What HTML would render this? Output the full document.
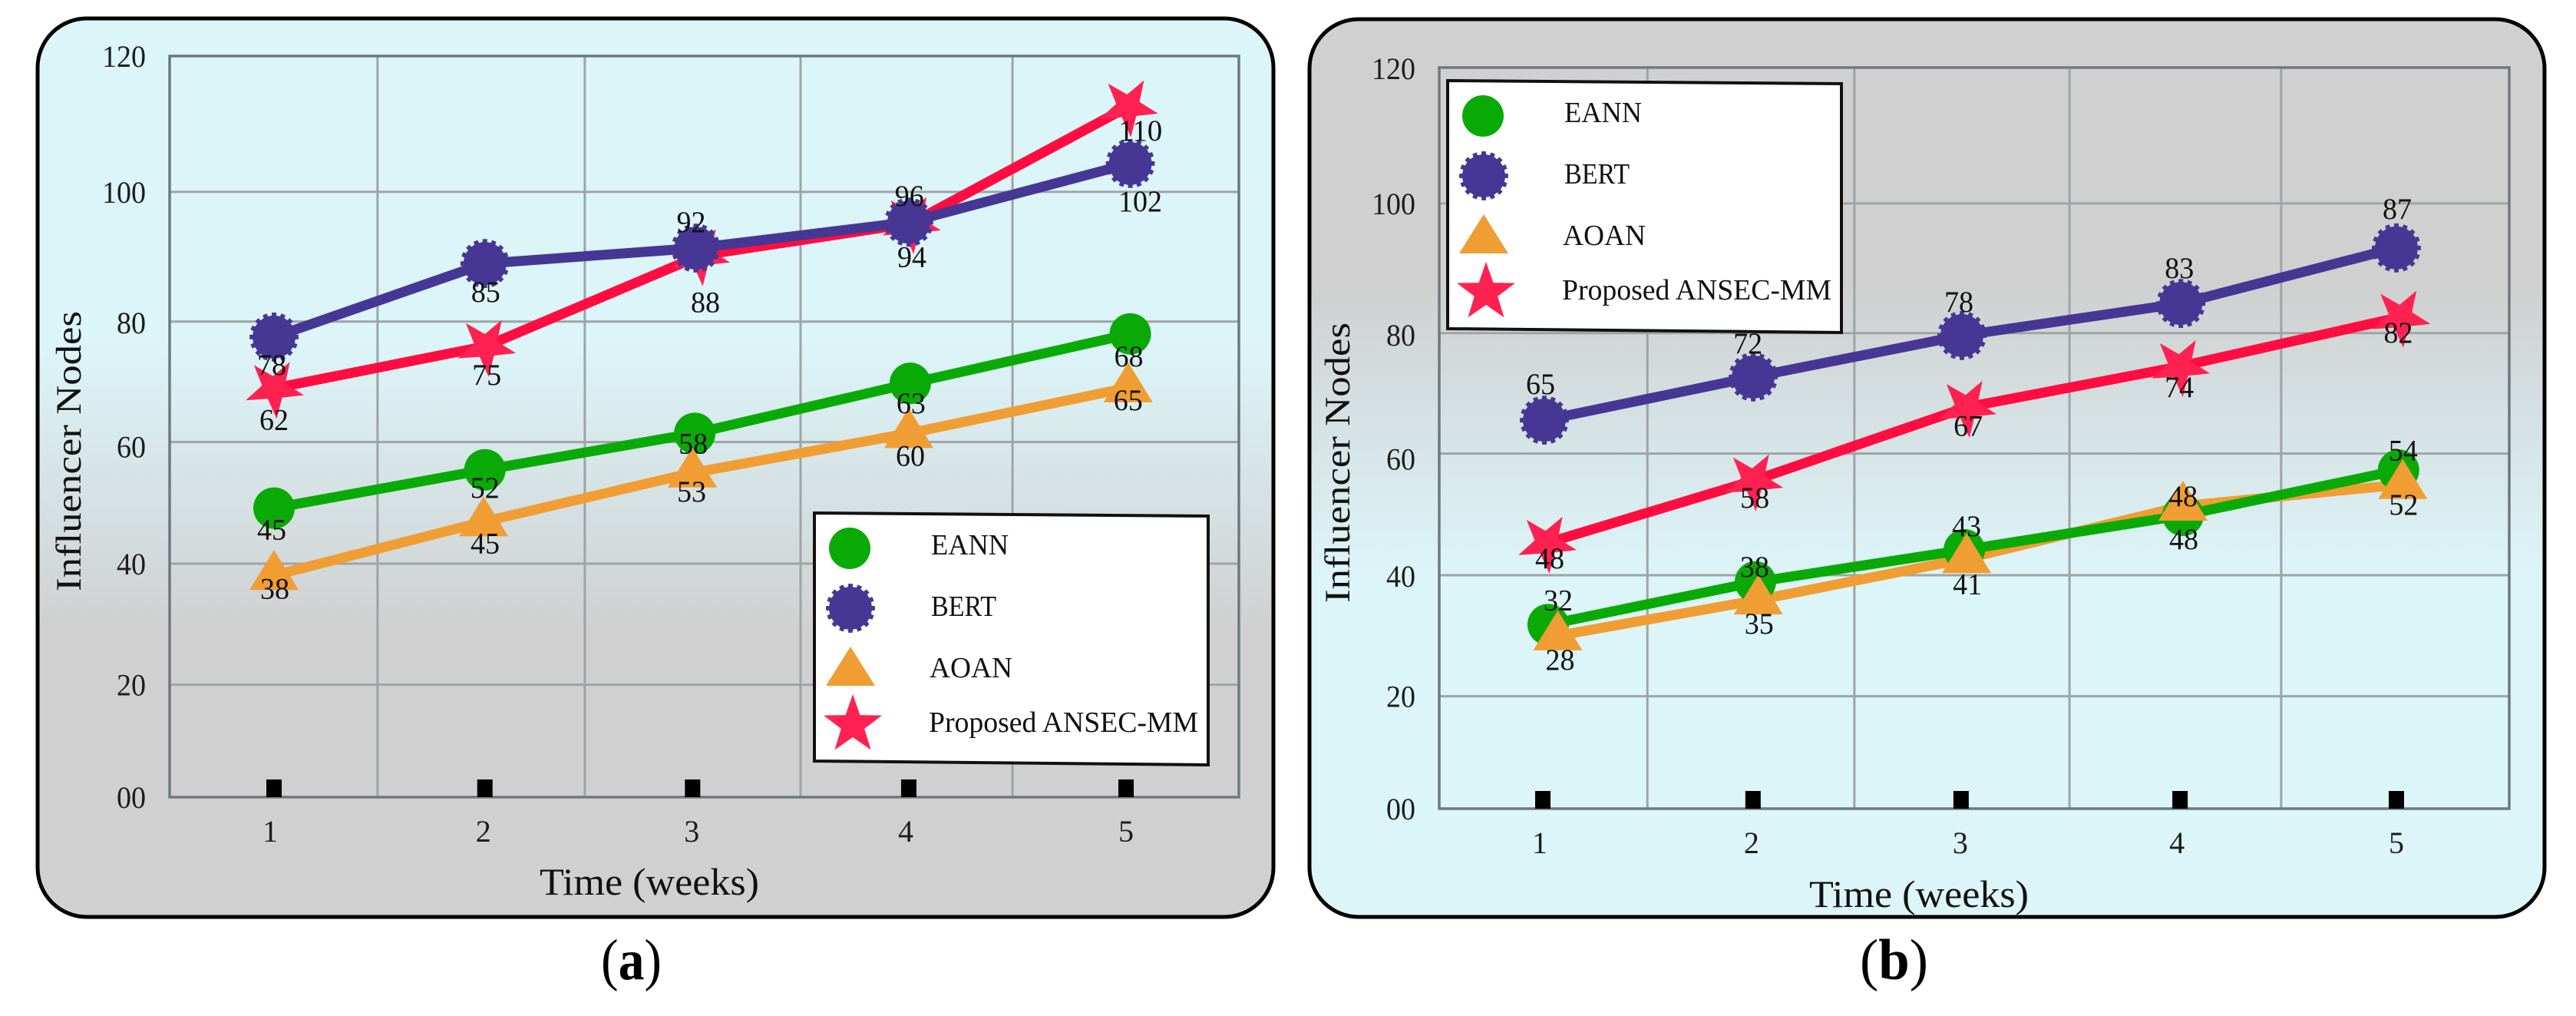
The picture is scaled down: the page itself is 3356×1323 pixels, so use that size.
<!DOCTYPE html>
<html lang="en">
<head>
<meta charset="utf-8">
<title>Influencer Nodes over Time</title>
<style>
html,body{margin:0;padding:0;background:#fff;width:3356px;height:1323px;overflow:hidden}
svg{display:block;font-family:"Liberation Serif",serif}
</style>
</head>
<body>
<svg id="figure" xmlns="http://www.w3.org/2000/svg" width="3356" height="1323" viewBox="0 0 3356 1323">
  <defs>
    <linearGradient id="bgA" x1="0" y1="0" x2="0" y2="1">
      <stop offset="0" stop-color="#dcf5f9"/><stop offset="0.36" stop-color="#dcf5f9"/><stop offset="0.68" stop-color="#d0d0d0"/><stop offset="1" stop-color="#d0d0d0"/>
    </linearGradient>
    <linearGradient id="bgB" x1="0" y1="0" x2="0" y2="1">
      <stop offset="0" stop-color="#d0d0d0"/><stop offset="0.30" stop-color="#d0d0d0"/><stop offset="0.62" stop-color="#dcf5f9"/><stop offset="1" stop-color="#dcf5f9"/>
    </linearGradient>
  </defs>
</svg>
<script>
/* ---------- shared axis data ---------- */
var yTickLabels = ["00","20","40","60","80","100","120"];
var gridLevels = [0,18.2,37.8,57.5,77,98,120];
var xTickLabels = ["1","2","3","4","5"];
var seriesNames = ["EANN","BERT","AOAN","Proposed ANSEC-MM"];

/* ---------- panel (a) data: plotted values, time coordinates, printed labels ---------- */
var aEannValues = [46.8,53.0,58.9,67.0,75.0];
var aBertValues = [74.5,86.4,88.9,93.1,102.6];
var aAoanValues = [35.9,44.6,52.5,58.9,66.3];
var aStarValues = [66.2,73.0,87.7,92.9,111.8];
var aEannTime = [1,1.99,2.975,3.987,5.02];
var aBertTime = [1,1.99,2.98,3.98,5.02];
var aAoanTime = [1,1.984,2.964,3.98,5.01];
var aStarTime = [1,1.995,3.0,3.99,5.01];
var aEannPrinted = [45,52,58,63,68];
var aBertPrinted = [78,85,92,94,102];
var aAoanPrinted = [38,45,53,60,65];
var aStarPrinted = [62,75,88,96,110];
var aTimeTicks = [1,1.99,2.965,3.98,5];
var aVerticalGrid = [1.486,2.459,3.472,4.467];

/* ---------- panel (b) data ---------- */
var bEannValues = [29.8,36.7,41.9,47.5,54.8];
var bBertValues = [62.9,69.9,76.6,81.8,90.8];
var bAoanValues = [28.0,33.8,40.5,49.0,52.5];
var bStarValues = [43.0,53.1,65.0,71.6,79.6];
var bEannTime = [1.025,1.996,2.975,4.0,5.01];
var bBertTime = [1.007,1.986,2.964,3.99,5.0];
var bAoanTime = [1.07,2.01,2.986,4.0,5.03];
var bStarTime = [1.018,1.986,2.986,3.986,5.02];
var bEannPrinted = [32,38,43,48,54];
var bBertPrinted = [65,72,78,83,87];
var bAoanPrinted = [28,35,41,48,52];
var bStarPrinted = [48,58,67,74,82];
var bTimeTicks = [1,1.985,2.96,3.986,5];
var bVerticalGrid = [1.49,2.46,3.468,4.46];

var svgNS = "http://www.w3.org/2000/svg";
var root = document.getElementById("figure");

function el(tag, attrs, parent, text) {
  var n = document.createElementNS(svgNS, tag);
  for (var k in attrs) { n.setAttribute(k, attrs[k]); }
  if (text !== undefined) { n.textContent = text; }
  parent.appendChild(n);
  return n;
}
function gearPoints(cx, cy) {
  var pts = [], teeth = 16, ro = 32, ri = 28;
  for (var i = 0; i < teeth; i++) {
    var a = i / teeth * Math.PI * 2, w = Math.PI / teeth * 0.55;
    [[ -w*1.0, ri],[ -w*0.85, ro],[ w*0.85, ro],[ w*1.0, ri]].forEach(function (p) {
      pts.push((cx + p[1] * Math.cos(a + p[0])).toFixed(1) + "," + (cy + p[1] * Math.sin(a + p[0])).toFixed(1));
    });
  }
  return pts.join(" ");
}
function starPoints(cx, cy, rotDeg) {
  var pts = [], R = 40, r = 16, rot = rotDeg * Math.PI / 180;
  for (var i = 0; i < 10; i++) {
    var a = -Math.PI / 2 + i * Math.PI / 5 + rot, rad = i % 2 ? r : R;
    pts.push((cx + rad * Math.cos(a)).toFixed(1) + "," + (cy + rad * Math.sin(a)).toFixed(1));
  }
  return pts.join(" ");
}
function trianglePoints(cx, cy) {
  return cx + "," + (cy - 33) + " " + (cx + 32) + "," + (cy + 19) + " " + (cx - 32) + "," + (cy + 19);
}
var COLORS = { eann: "#0aaa06", bert: "#463795", aoan: "#f09d33", star: "#ff2150", starLine: "#ff0d40" };

function drawMarker(kind, cx, cy, parent) {
  if (kind === "eann") { return el("circle", { cx: cx, cy: cy, r: 27, fill: COLORS.eann }, parent); }
  if (kind === "bert") { return el("polygon", { points: gearPoints(cx, cy), fill: COLORS.bert }, parent); }
  if (kind === "aoan") { return el("polygon", { points: trianglePoints(cx, cy), fill: COLORS.aoan }, parent); }
  return el("polygon", { points: starPoints(cx, cy, 175), fill: COLORS.star }, parent);
}

function drawPanel(cfg) {
  var g = el("g", {}, root);
  
  

  var bg = el("rect", { x: cfg.box[0], y: cfg.box[1], width: cfg.box[2] - cfg.box[0], height: cfg.box[3] - cfg.box[1], rx: 64, ry: 64, fill: cfg.fill, stroke: "#000", "stroke-width": 5 }, g);
  
  

  function X(t) { return cfg.x1 + (t - 1) * cfg.xStep; }
  function Y(v) { return cfg.y0 - v * cfg.yUnit; }

  gridLevels.forEach(function (lv, i) {
    var ln = el("line", { x1: cfg.left, x2: cfg.right, y1: Y(lv), y2: Y(lv), stroke: "#9ea4a6", "stroke-width": 3 }, g);
    
    
    var tx = el("text", { x: cfg.yTickX, y: Y(lv) + cfg.yTickShift[i] + 14, "text-anchor": "end", "font-size": 40, textLength: yTickLabels[i].length * 19, lengthAdjust: "spacingAndGlyphs", fill: "#1d1d1d" }, g, yTickLabels[i]);
    
    
  });
  cfg.vGrid.forEach(function (t) {
    var ln = el("line", { x1: X(t), x2: X(t), y1: Y(120), y2: Y(0), stroke: "#9ea4a6", "stroke-width": 3 }, g);
    
    
  });
  var frame = el("rect", { x: cfg.left, y: Y(120), width: cfg.right - cfg.left, height: Y(0) - Y(120), fill: "none", stroke: "#6d7a7c", "stroke-width": 3.5 }, g);
  
  

  cfg.ticks.forEach(function (t, i) {
    var b = el("rect", { x: X(t) - 10, y: Y(0) - 23, width: 20, height: 23, fill: "#000" }, g);
    
    
    var tx = el("text", { x: X(t) + cfg.xTickNudge[i], y: cfg.xTickBase, "text-anchor": "middle", "font-size": 40, fill: "#1d1d1d" }, g, xTickLabels[i]);
    
    
  });

  var xt = el("text", { x: cfg.xTitle[0], y: cfg.xTitle[1], "font-size": 50, textLength: 286, lengthAdjust: "spacingAndGlyphs", fill: "#111" }, g, "Time (weeks)");
  
  
  var yt = el("text", { transform: "translate(" + cfg.yTitle[0] + "," + cfg.yTitle[1] + ") rotate(-90)", "font-size": 47, textLength: 365, lengthAdjust: "spacingAndGlyphs", fill: "#111" }, g, "Influencer Nodes");
  
  

  /* series lines and markers */
  cfg.series.forEach(function (s) {
    var pts = s.values.map(function (v, i) { return X(s.time[i]).toFixed(1) + "," + Y(v).toFixed(1); }).join(" ");
    var pl = el("polyline", { points: pts, fill: "none", stroke: s.kind === "star" ? COLORS.starLine : COLORS[s.kind], "stroke-width": 13, "stroke-linejoin": "round" }, g);
    
    
  });
  cfg.markerOrder.forEach(function (s) {
    s.values.forEach(function (v, i) {
      var m = drawMarker(s.kind, X(s.time[i]), Y(v), g);
      
      
    });
  });
  cfg.series.forEach(function (s) {
    s.values.forEach(function (v, i) {
      var label = String(s.printed[i]);
      var tx = el("text", { x: X(s.time[i]) + s.dx[i] - label.length * 9.5, y: Y(v) + s.dy[i] + 13, "font-size": 39, textLength: label.length * 19, lengthAdjust: "spacingAndGlyphs", fill: "#111" }, g, label);
      
      
    });
  });

  /* legend */
  var lg = el("g", { transform: "translate(" + cfg.legendShift[0] + "," + cfg.legendShift[1] + ")" }, g);
  
  
  var lb = el("polygon", { points: "1061,668 1574,672 1574,996 1061,991", fill: "#fff", stroke: "#111", "stroke-width": 4 }, lg);
  
  

  var c = el("circle", { cx: 1107, cy: 714, r: 27, fill: COLORS.eann }, lg);
  
  
  var gr = el("polygon", { points: gearPoints(1108, 792), fill: COLORS.bert }, lg);
  
  
  var tr = el("polygon", { points: "1108,842 1140,893 1076,893", fill: COLORS.aoan }, lg);
  
  
  var st = el("polygon", { points: starPoints(1111, 944, 0), fill: COLORS.star }, lg);
  
  

  var t0 = el("text", { x: 1213, y: 722, "font-size": 38, textLength: 101, lengthAdjust: "spacingAndGlyphs", fill: "#111" }, lg, seriesNames[0]);
  
  
  var t1 = el("text", { x: 1213, y: 802, "font-size": 38, textLength: 85, lengthAdjust: "spacingAndGlyphs", fill: "#111" }, lg, seriesNames[1]);
  
  
  var t2 = el("text", { x: 1211, y: 882, "font-size": 38, textLength: 108, lengthAdjust: "spacingAndGlyphs", fill: "#111" }, lg, seriesNames[2]);
  
  
  var t3 = el("text", { x: 1210, y: 953, "font-size": 38, textLength: 351, lengthAdjust: "spacingAndGlyphs", fill: "#111" }, lg, seriesNames[3]);
  
  

  /* caption */
  var cap = el("text", { x: cfg.caption[0], y: 1275, "font-size": 75, textLength: cfg.caption[1], lengthAdjust: "spacingAndGlyphs", fill: "#000" }, g);
  
  
  el("tspan", {}, cap, "(");
  el("tspan", { "font-weight": "bold" }, cap, cfg.letter);
  el("tspan", {}, cap, ")");
}

/* panel (a) */
var aEann = { kind: "eann", values: aEannValues, time: aEannTime, printed: aEannPrinted, dx: [-3,0,-2,1,-2], dy: [28,23,13,26,29] };
var aBert = { kind: "bert", values: aBertValues, time: aBertTime, printed: aBertPrinted, dx: [-3,1,-6,4,13], dy: [36,37,-34,45,49] };
var aAoan = { kind: "aoan", values: aAoanValues, time: aAoanTime, printed: aAoanPrinted, dx: [1,2,-1,2,0], dy: [17,28,24,29,16] };
var aStar = { kind: "star", values: aStarValues, time: aStarTime, printed: aStarPrinted, dx: [0,1,7,-2,16], dy: [41,37,61,-36,31] };
drawPanel({
  name: "chart-panel-a", box: [49,24,1659,1194], fill: "url(#bgA)",
  left: 221, right: 1614, x1: 357, xStep: 277.5, y0: 1038, yUnit: 8.042,
  yTickX: 190, yTickShift: [0,0,0,6,1,0,0], xTickBase: 1096, xTickNudge: [-5,-2,-1,-4,0],
  vGrid: aVerticalGrid, ticks: aTimeTicks,
  xTitle: [703,1165], yTitle: [105,770],
  series: [aAoan, aEann, aStar, aBert],
  markerOrder: [aEann, aAoan, aStar, aBert],
  legendShift: [0,0], caption: [783,79], letter: "a"
});

/* panel (b) */
var bEann = { kind: "eann", values: bEannValues, time: bEannTime, printed: bEannPrinted, dx: [13,-1,3,0,6], dy: [-32,-20,-31,-25,-26] };
var bBert = { kind: "bert", values: bBertValues, time: bBertTime, printed: bBertPrinted, dx: [-5,-7,-4,-2,1], dy: [-47,-44,-44,-46,-51] };
var bAoan = { kind: "aoan", values: bAoanValues, time: bAoanTime, printed: bAoanPrinted, dx: [3,1,1,1,1], dy: [31,31,33,43,26] };
var bStar = { kind: "star", values: bStarValues, time: bStarTime, printed: bStarPrinted, dx: [4,2,2,-1,-3], dy: [20,22,24,27,20] };
drawPanel({
  name: "chart-panel-b", box: [1706,25,3315,1194], fill: "url(#bgB)",
  left: 1875, right: 3269, x1: 2010, xStep: 278, y0: 1053, yUnit: 8.042,
  yTickX: 1844, yTickShift: [0,0,1,7,2,0,1], xTickBase: 1111, xTickNudge: [-4,-2,-1,-4,0],
  vGrid: bVerticalGrid, ticks: bTimeTicks,
  xTitle: [2357,1181], yTitle: [1758,785],
  series: [bAoan, bEann, bStar, bBert],
  markerOrder: [bEann, bAoan, bStar, bBert],
  legendShift: [825,-563], caption: [2423,89], letter: "b"
});
</script>
</body>
</html>
